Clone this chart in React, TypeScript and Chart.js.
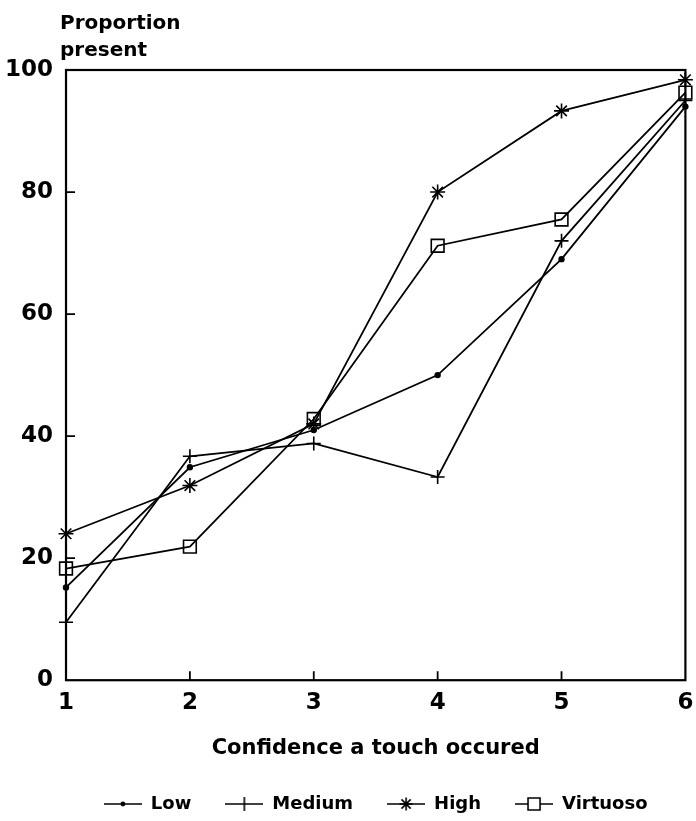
import React, { useEffect, useRef } from "react";
import { Chart, registerables } from "chart.js";

Chart.register(...registerables);

const confidence = [1, 2, 3, 4, 5, 6];
const lowValues = [15.2, 34.9, 41, 50, 69, 94];
const mediumValues = [9.5, 36.7, 38.8, 33.3, 72, 95];
const highValues = [24, 31.9, 42, 80, 93.3, 98.4];
const virtuosoValues = [18.3, 21.9, 42.8, 71.2, 75.5, 96.3];
const seriesNames = ["Low", "Medium", "High", "Virtuoso"];
const yTickValues = [0, 20, 40, 60, 80, 100];
const yTitleLines = ["Proportion", "present"];
const xTitle = "Confidence a touch occured";

const FONT = "'DejaVu Sans', sans-serif";

function makeIcon(kind: string): HTMLCanvasElement {
  const c = document.createElement("canvas");
  c.width = 38;
  c.height = 20;
  const ctx = c.getContext("2d")!;
  ctx.strokeStyle = "#000";
  ctx.fillStyle = "#000";
  ctx.lineWidth = 1.6;
  ctx.beginPath();
  ctx.moveTo(0, 10);
  ctx.lineTo(38, 10);
  ctx.stroke();
  const cx = 19, cy = 10;
  ctx.beginPath();
  if (kind === "circle") {
    ctx.arc(cx, cy, 2.4, 0, Math.PI * 2);
    ctx.fill();
  } else if (kind === "cross") {
    ctx.moveTo(cx, cy - 7);
    ctx.lineTo(cx, cy + 7);
    ctx.stroke();
  } else if (kind === "star") {
    const r = 6.5;
    for (let k = 0; k < 4; k++) {
      const a = (k * Math.PI) / 4;
      ctx.moveTo(cx - Math.cos(a) * r, cy - Math.sin(a) * r);
      ctx.lineTo(cx + Math.cos(a) * r, cy + Math.sin(a) * r);
    }
    ctx.stroke();
  } else if (kind === "rect") {
    ctx.clearRect(cx - 6, cy - 6, 12, 12);
    ctx.rect(cx - 6, cy - 6, 12, 12);
    ctx.stroke();
  }
  return c;
}

const framePlugin = {
  id: "frame",
  afterDraw(chart: any) {
    const { ctx, chartArea } = chart;
    const xs = chart.scales.x;
    const ys = chart.scales.y;
    ctx.save();
    ctx.strokeStyle = "#000";
    ctx.lineWidth = 2.2;
    ctx.strokeRect(chartArea.left, chartArea.top, chartArea.right - chartArea.left, chartArea.bottom - chartArea.top);
    ctx.lineWidth = 1.8;
    ctx.beginPath();
    for (const v of yTickValues.slice(1, -1)) {
      const y = ys.getPixelForValue(v);
      ctx.moveTo(chartArea.left, y);
      ctx.lineTo(chartArea.left + 9, y);
    }
    for (const v of confidence.slice(1, -1)) {
      const x = xs.getPixelForValue(v);
      ctx.moveTo(x, chartArea.bottom);
      ctx.lineTo(x, chartArea.bottom - 9);
    }
    ctx.stroke();
    ctx.fillStyle = "#000";
    ctx.font = `bold 20px ${FONT}`;
    ctx.textAlign = "left";
    ctx.textBaseline = "alphabetic";
    ctx.fillText(yTitleLines[0], chartArea.left - 6, chartArea.top - 41);
    ctx.fillText(yTitleLines[1], chartArea.left - 6, chartArea.top - 14);
    ctx.restore();
  },
};

export default function App() {
  const ref = useRef<HTMLCanvasElement>(null);
  useEffect(() => {
    const icons = [makeIcon("circle"), makeIcon("cross"), makeIcon("star"), makeIcon("rect")];
    const common = {
      borderColor: "#000",
      borderWidth: 1.8,
      pointBorderColor: "#000",
      pointBorderWidth: 1.6,
      tension: 0,
      fill: false,
      clip: false,
    };
    const chart = new Chart(ref.current!, {
      type: "line",
      data: {
        datasets: [
          { ...common, label: seriesNames[0], data: confidence.map((x, i) => ({ x, y: lowValues[i] })), pointStyle: "circle", pointRadius: 2.4, pointBackgroundColor: "#000" },
          { ...common, label: seriesNames[1], data: confidence.map((x, i) => ({ x, y: mediumValues[i] })), pointStyle: "cross", pointRadius: 7, pointBackgroundColor: "#000" },
          { ...common, label: seriesNames[2], data: confidence.map((x, i) => ({ x, y: highValues[i] })), pointStyle: "star", pointRadius: 7.5, pointBackgroundColor: "#000" },
          { ...common, label: seriesNames[3], data: confidence.map((x, i) => ({ x, y: virtuosoValues[i] })), pointStyle: "rect", pointRadius: 9, pointBackgroundColor: "rgba(0,0,0,0)" },
        ],
      },
      options: {
        animation: false,
        responsive: false,
        maintainAspectRatio: false,
        layout: { padding: { top: 70, right: 5, left: 0, bottom: -2 } },
        scales: {
          x: {
            type: "linear",
            min: 1,
            max: 6,
            grid: { display: false },
            border: { display: false },
            ticks: { stepSize: 1, color: "#000", padding: 1, font: { family: FONT, size: 23, weight: "bold" } },
            title: { display: true, text: xTitle, color: "#000", font: { family: FONT, size: 21, weight: "bold" }, padding: { top: 18, bottom: 0 } },
          },
          y: {
            min: 0,
            max: 100,
            grid: { display: false },
            border: { display: false },
            ticks: { stepSize: 20, color: "#000", padding: 5, font: { family: FONT, size: 23, weight: "bold" } },
          },
        },
        plugins: {
          tooltip: { enabled: false },
          legend: {
            position: "bottom",
            fullSize: false,
            labels: {
              color: "#000",
              font: { family: FONT, size: 18, weight: "bold" },
              usePointStyle: true,
              pointStyleWidth: 38,
              padding: 34,
              generateLabels: (ch: any) => {
                const base = Chart.defaults.plugins.legend.labels.generateLabels(ch);
                return base.map((l: any, i: number) => ({ ...l, pointStyle: icons[i] }));
              },
            },
          },
        },
      },
      plugins: [framePlugin],
    } as any);
    return () => chart.destroy();
  }, []);
  return (
    <div style={{ position: "absolute", left: 0, top: 0, width: 696, height: 821, background: "#fff" }}>
      <canvas ref={ref} width={696} height={821} />
    </div>
  );
}
